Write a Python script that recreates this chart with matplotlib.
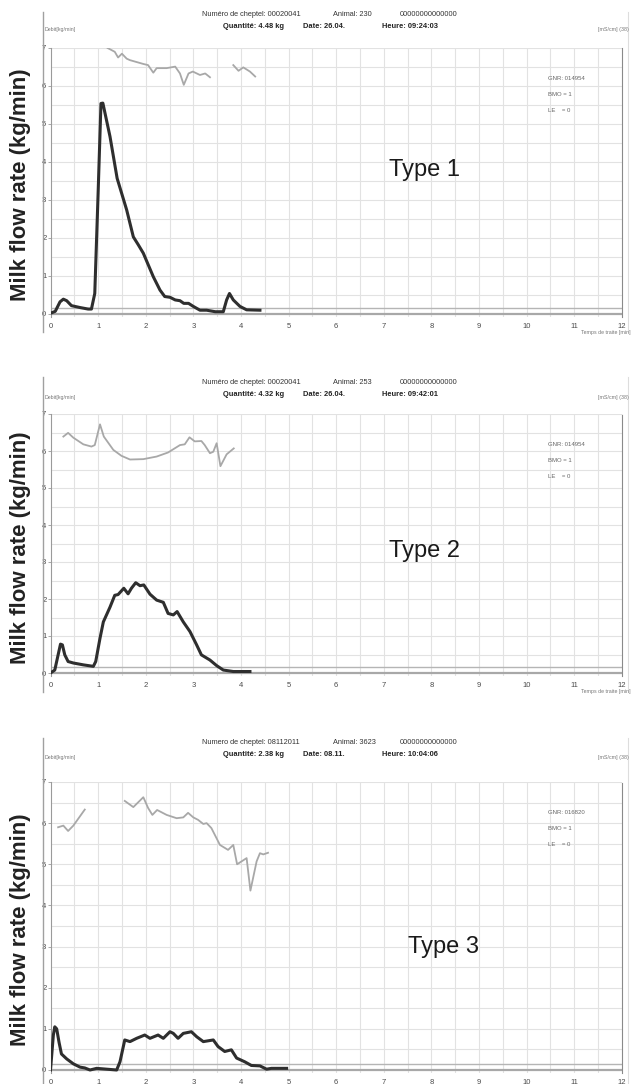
import matplotlib
matplotlib.use("Agg")
import matplotlib.pyplot as plt
from matplotlib.lines import Line2D

plt.rcParams['font.family'] = ['Liberation Sans', 'DejaVu Sans']

W, H = 631, 1084

# ---- data (time in min, flow in kg/min) ----
flow1_t = [0, 0.1, 0.2, 0.27, 0.34, 0.44, 0.62, 0.79, 0.86, 0.93, 1.0, 1.06, 1.1,
           1.25, 1.4, 1.6, 1.74, 1.84, 1.95, 2.16, 2.3, 2.4, 2.51, 2.62, 2.72, 2.8,
           2.9, 3.0, 3.14, 3.28, 3.46, 3.63, 3.7, 3.76, 3.84, 3.98, 4.12, 4.4]
flow1_v = [0.02, 0.07, 0.32, 0.39, 0.35, 0.22, 0.17, 0.13, 0.13, 0.54, 3.17, 5.54, 5.55,
           4.67, 3.57, 2.74, 2.03, 1.83, 1.6, 0.98, 0.63, 0.46, 0.44, 0.37, 0.35, 0.28,
           0.28, 0.2, 0.1, 0.1, 0.06, 0.06, 0.37, 0.54, 0.37, 0.2, 0.11, 0.1]
cond1a_t = [1.2, 1.35, 1.42, 1.5, 1.6, 1.67, 1.95, 2.05, 2.16, 2.23, 2.44, 2.62, 2.72,
            2.8, 2.9, 2.99, 3.14, 3.25, 3.35]
cond1a_v = [7.0, 6.9, 6.75, 6.85, 6.72, 6.68, 6.58, 6.55, 6.35, 6.47, 6.47, 6.51, 6.33,
            6.03, 6.33, 6.38, 6.29, 6.33, 6.23]
cond1b_t = [3.84, 3.95, 4.05, 4.19, 4.3]
cond1b_v = [6.55, 6.4, 6.49, 6.38, 6.25]

flow2_t = [0, 0.09, 0.16, 0.21, 0.25, 0.3, 0.37, 0.48, 0.69, 0.9, 0.95, 1.04, 1.11,
           1.25, 1.35, 1.42, 1.54, 1.63, 1.7, 1.79, 1.88, 1.96, 2.09, 2.23, 2.37, 2.47,
           2.58, 2.66, 2.79, 2.93, 3.07, 3.17, 3.35, 3.49, 3.63, 3.84, 4.19]
flow2_v = [0, 0.08, 0.49, 0.78, 0.76, 0.49, 0.31, 0.27, 0.22, 0.18, 0.31, 0.94, 1.38,
           1.78, 2.1, 2.12, 2.29, 2.14, 2.29, 2.44, 2.36, 2.38, 2.13, 1.97, 1.91, 1.61,
           1.57, 1.66, 1.38, 1.12, 0.76, 0.49, 0.35, 0.2, 0.08, 0.04, 0.04]
cond2_t = [0.27, 0.37, 0.48, 0.69, 0.86, 0.93, 1.04, 1.12, 1.32, 1.49, 1.67, 1.95, 2.23,
           2.47, 2.72, 2.82, 2.92, 3.03, 3.17, 3.24, 3.35, 3.42, 3.49, 3.57, 3.7, 3.85]
cond2_v = [6.39, 6.49, 6.36, 6.18, 6.12, 6.16, 6.72, 6.39, 6.03, 5.87, 5.77, 5.78, 5.85,
           5.96, 6.16, 6.18, 6.37, 6.26, 6.27, 6.16, 5.94, 5.98, 6.21, 5.59, 5.91, 6.07]

flow3_t = [0, 0.06, 0.09, 0.13, 0.18, 0.23, 0.34, 0.48, 0.62, 0.72, 0.83, 0.97, 1.18,
           1.39, 1.46, 1.56, 1.67, 1.81, 1.98, 2.09, 2.26, 2.37, 2.51, 2.58, 2.68, 2.79,
           2.96, 3.07, 3.21, 3.42, 3.52, 3.66, 3.8, 3.91, 4.08, 4.22, 4.4, 4.54, 4.64, 4.96]
flow3_v = [0, 0.85, 1.05, 1.0, 0.67, 0.39, 0.27, 0.15, 0.07, 0.05, 0.0, 0.04, 0.02,
           0.0, 0.2, 0.73, 0.69, 0.77, 0.85, 0.77, 0.85, 0.77, 0.93, 0.89, 0.77, 0.89,
           0.93, 0.81, 0.69, 0.73, 0.57, 0.45, 0.49, 0.29, 0.2, 0.11, 0.1, 0.02, 0.04, 0.04]
cond3a_t = [0.16, 0.27, 0.37, 0.48, 0.72]
cond3a_v = [5.9, 5.94, 5.81, 5.94, 6.33]
cond3b_t = [1.56, 1.74, 1.95, 2.05, 2.14, 2.24, 2.44, 2.65, 2.79, 2.89, 3.0, 3.1, 3.21,
            3.28, 3.38, 3.56, 3.73, 3.84, 3.92, 4.12, 4.2, 4.33, 4.4, 4.47, 4.57]
cond3b_v = [6.54, 6.39, 6.63, 6.37, 6.2, 6.32, 6.2, 6.12, 6.14, 6.25, 6.14, 6.08, 5.98,
            6.0, 5.88, 5.47, 5.35, 5.47, 5.0, 5.15, 4.36, 5.07, 5.27, 5.24, 5.28]

headers = [
    ("Numéro de cheptel: 00020041", "Animal: 230", "Quantité: 4.48 kg", "Date: 26.04.",
     "Heure: 09:24:03", "GNR: 014954"),
    ("Numéro de cheptel: 00020041", "Animal: 253", "Quantité: 4.32 kg", "Date: 26.04.",
     "Heure: 09:42:01", "GNR: 014954"),
    ("Numero de cheptel: 08112011", "Animal: 3623", "Quantité: 2.38 kg", "Date: 08.11.",
     "Heure: 10:04:06", "GNR: 016820"),
]
type_labels = ["Type 1", "Type 2", "Type 3"]
x_ticks = list(range(13))
y_ticks = list(range(8))

# pixel layout of each panel
layout = [
    dict(hy=15, y0=314, y7=48, ftop=12, fbot=332, lab=(7.85, 3.8)),
    dict(hy=383, y0=673, y7=414, ftop=377, fbot=692, lab=(7.85, 3.3)),
    dict(hy=743, y0=1070, y7=782, ftop=738, fbot=1084, lab=(8.25, 3.0)),
]
X0, X12 = 50.5, 621.7

fig = plt.figure(figsize=(W / 100, H / 100), dpi=100)


def fx(px):
    return px / W


def fy(py):
    return 1 - py / H


def ptext(x, y, s, **kw):
    fig.text(fx(x), fy(y), s, **kw)


series = [
    (flow1_t, flow1_v, [(cond1a_t, cond1a_v), (cond1b_t, cond1b_v)]),
    (flow2_t, flow2_v, [(cond2_t, cond2_v)]),
    (flow3_t, flow3_v, [(cond3a_t, cond3a_v), (cond3b_t, cond3b_v)]),
]

for i, (lay, (ft, fv, conds)) in enumerate(zip(layout, series)):
    unit = (lay["y0"] - lay["y7"]) / 7.0
    ybot = lay["y0"] + 3
    ax = fig.add_axes([fx(X0), fy(ybot), (X12 - X0) / W, (ybot - lay["y7"]) / H])
    ax.set_xlim(0, 12)
    ax.set_ylim(-3 / unit, 7)

    for v in [k * 0.5 for k in range(1, 24)]:
        ax.axvline(v, color="#e2e2e2", lw=0.8, zorder=0)
    for v in [k * 0.5 for k in range(1, 15)]:
        ax.axhline(v, color="#e2e2e2", lw=0.8, zorder=0)
    ax.axhline(0.15, color="#b5b5b5", lw=1.0, zorder=1)
    ax.axhline(0, color="#a8a8a8", lw=1.6, zorder=1)

    for t, v in conds:
        ax.plot(t, v, color="#a8a8a8", lw=1.3, zorder=3)
    ax.plot(ft, fv, color="#2e2e2e", lw=2.2, zorder=4, solid_joinstyle="round")

    for s in ["top", "bottom"]:
        ax.spines[s].set_visible(False)
    ax.spines["left"].set_color("#9a9a9a")
    ax.spines["right"].set_color("#8a8a8a")
    ax.spines["right"].set_linestyle((0, (1, 1)))
    ax.set_xticks(x_ticks)
    ax.set_yticks(y_ticks)
    ax.tick_params(axis="both", labelsize=5.5, labelcolor="#4a4a4a", color="#999999",
                   length=2, width=0.6, pad=1.0)
    ax.tick_params(axis="x", pad=4, length=0)
    ax.patch.set_alpha(0)

    ax.text(lay["lab"][0], lay["lab"][1], type_labels[i], fontsize=17, color="#1a1a1a",
            ha="center", va="center")

    # frame lines around the panel
    fig.add_artist(Line2D([fx(43), fx(43)], [fy(lay["ftop"]), fy(lay["fbot"])],
                          color="#a0a0a0", lw=1.0))
    fig.add_artist(Line2D([fx(628), fx(628)], [fy(lay["ftop"]), fy(lay["fbot"])],
                          color="#dddddd", lw=0.8))

    h1, an, q, d, hr, gnr = headers[i]
    hy = lay["hy"]
    ptext(202, hy, h1, fontsize=5.3, color="#333333", va="center")
    ptext(333, hy, an, fontsize=5.3, color="#333333", va="center")
    ptext(400, hy, "00000000000000", fontsize=5.3, color="#333333", va="center")
    ptext(223, hy + 11, q, fontsize=5.4, color="#222222", va="center", weight="bold")
    ptext(303, hy + 11, d, fontsize=5.4, color="#222222", va="center", weight="bold")
    ptext(382, hy + 11, hr, fontsize=5.4, color="#222222", va="center", weight="bold")
    ptext(45, hy + 15, "Debit[kg/min]", fontsize=3.8, color="#777777", va="center")
    ptext(629, hy + 15, "[mS/cm] (38)", fontsize=3.8, color="#777777", va="center",
          ha="right")

    gy = lay["y7"] + 30
    ptext(548, gy, gnr, fontsize=4.3, color="#666666", va="center")
    ptext(548, gy + 16, "BMO = 1", fontsize=4.3, color="#666666", va="center")
    ptext(548, gy + 32, "LE    = 0", fontsize=4.3, color="#666666", va="center")
    if i < 2:
        ptext(631, lay["y0"] + 18, "Temps de traite [min]", fontsize=3.8,
              color="#777777", va="center", ha="right")

    ptext(21, (lay["y0"] + lay["y7"]) / 2 + 4, "Milk flow rate (kg/min)", fontsize=16,
          weight="bold", color="#222222", rotation=90, ha="center", va="center")

fig.savefig("out.png", dpi=100)
